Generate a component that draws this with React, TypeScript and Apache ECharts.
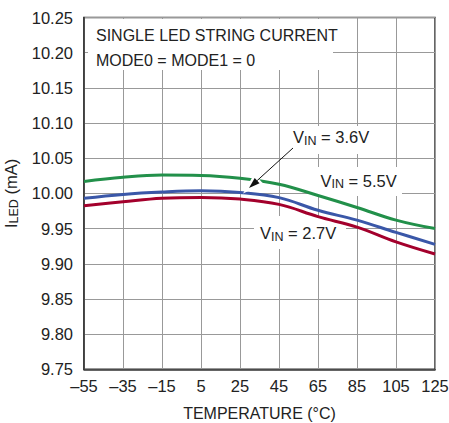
import React, { useEffect, useRef } from "react";
import * as echarts from "echarts";

const temps = [-55, -35, -15, 5, 25, 45, 65, 85, 105, 125];
const vin55 = [10.017, 10.023, 10.026, 10.0255, 10.0215, 10.013, 9.997, 9.98, 9.962, 9.95];
const vin36 = [9.993, 9.9986, 10.002, 10.0037, 10.0014, 9.994, 9.976, 9.962, 9.9446, 9.9276];
const vin27 = [9.9824, 9.988, 9.993, 9.9943, 9.992, 9.9844, 9.967, 9.952, 9.931, 9.9138];

const xMin = -55;
const xMax = 125;
const xStep = 20;
const yMin = 9.75;
const yMax = 10.25;
const yStep = 0.05;

const FONT = "'Liberation Sans', Arial, sans-serif";
const TXT = "#222";

const sub = (main: string, s: string, rest: string) => `{a|${main}}{b|${s}}{a|${rest}}`;
const richStyle = {
  a: { fontSize: 16.5, fontFamily: FONT, fill: TXT, color: TXT, lineHeight: 20 },
  b: { fontSize: 12.5, fontFamily: FONT, fill: TXT, color: TXT, lineHeight: 12, verticalAlign: "bottom" },
};

export default function App() {
  const ref = useRef<HTMLDivElement>(null);
  useEffect(() => {
    if (!ref.current) return;
    const chart = echarts.init(ref.current, undefined, { renderer: "svg" });
    const mk = (vals: number[]) => temps.map((t, i) => [t, vals[i]]);
    const series = [
      { name: "VIN = 5.5V", data: mk(vin55), color: "#22904a" },
      { name: "VIN = 3.6V", data: mk(vin36), color: "#3a57a8" },
      { name: "VIN = 2.7V", data: mk(vin27), color: "#a3002c" },
    ].map((s) => ({
      type: "line",
      name: s.name,
      data: s.data,
      smooth: 0.4,
      showSymbol: false,
      lineStyle: { color: s.color, width: 3 },
      itemStyle: { color: s.color },
      z: 3,
    }));

    // arrow geometry
    const tip = [249, 188];
    const start = [293, 148];
    const dx = start[0] - tip[0];
    const dy = start[1] - tip[1];
    const len = Math.hypot(dx, dy);
    const ux = dx / len;
    const uy = dy / len;
    const hl = 11;
    const hw = 3.6;
    const bx = tip[0] + ux * hl;
    const by = tip[1] + uy * hl;
    const head = [
      [tip[0], tip[1]],
      [bx + -uy * hw, by + ux * hw],
      [bx - -uy * hw, by - ux * hw],
    ];

    const label = (x: number, y: number, text: string) => ({
      type: "text",
      x,
      y,
      z: 20,
      style: {
        text,
        rich: richStyle,
        verticalAlign: "middle",
        align: "left",
      },
    });

    chart.setOption({
      animation: false,
      backgroundColor: "#fff",
      grid: {
        left: 84,
        right: 14,
        top: 17.5,
        bottom: 53.7,
        show: true,
        containLabel: false,
        outerBoundsMode: "none",
        borderColor: "#333",
        borderWidth: 1.5,
        backgroundColor: "transparent",
      },
      xAxis: {
        type: "value",
        min: xMin,
        max: xMax,
        interval: xStep,
        name: "TEMPERATURE (°C)",
        nameLocation: "middle",
        nameGap: 36,
        nameTextStyle: { fontSize: 16, fontFamily: FONT, color: TXT },
        axisLine: { show: true, onZero: false, lineStyle: { color: "#333", width: 1.5 } },
        axisTick: { show: false },
        axisLabel: {
          fontSize: 16.5,
          fontFamily: FONT,
          color: TXT,
          margin: 8,
          formatter: (v: number) => (v < 0 ? "\u2013" + Math.abs(v) : String(v)),
        },
        splitLine: { show: true, lineStyle: { color: "#999", width: 1 } },
      },
      yAxis: {
        type: "value",
        min: yMin,
        max: yMax,
        interval: yStep,
        name: "{a|I}{b|LED}{a| (mA)}",
        nameLocation: "middle",
        nameRotate: 90,
        nameGap: 60,
        nameTextStyle: {
          rich: {
            a: { fontSize: 16.5, fontFamily: FONT, color: TXT, lineHeight: 20 },
            b: { fontSize: 12.5, fontFamily: FONT, color: TXT, lineHeight: 12, verticalAlign: "bottom" },
          },
        },
        axisLine: { show: true, onZero: false, lineStyle: { color: "#333", width: 1.5 } },
        axisTick: { show: false },
        axisLabel: {
          fontSize: 16.5,
          fontFamily: FONT,
          color: TXT,
          margin: 11,
          formatter: (v: number) => v.toFixed(2),
        },
        splitLine: { show: true, lineStyle: { color: "#999", width: 1 } },
      },
      series,
      graphic: [
        { type: "rect", z: 1, shape: { x: 88, y: 19, width: 245, height: 51 }, style: { fill: "#fff" } },
        { type: "rect", z: 1, shape: { x: 286, y: 126, width: 104, height: 28 }, style: { fill: "#fff" } },
        { type: "rect", z: 1, shape: { x: 313, y: 167, width: 89, height: 29 }, style: { fill: "#fff" } },
        { type: "rect", z: 1, shape: { x: 254, y: 216, width: 92, height: 33 }, style: { fill: "#fff" } },
        {
          type: "text",
          x: 96,
          y: 35.5,
          z: 20,
          style: { text: "SINGLE LED STRING CURRENT", fontSize: 16, fontFamily: FONT, fill: TXT, verticalAlign: "middle" },
        },
        {
          type: "text",
          x: 96,
          y: 60,
          z: 20,
          style: { text: "MODE0 = MODE1 = 0", fontSize: 16, fontFamily: FONT, fill: TXT, verticalAlign: "middle" },
        },
        label(293, 137, sub("V", "IN", " = 3.6V")),
        label(320.5, 180.5, sub("V", "IN", " = 5.5V")),
        label(260, 233, sub("V", "IN", " = 2.7V")),
        {
          type: "polygon",
          z: 15,
          shape: { points: head },
          style: { fill: "#fff", stroke: "#fff", lineWidth: 5 },
        },
        {
          type: "line",
          z: 16,
          shape: { x1: start[0], y1: start[1], x2: bx, y2: by },
          style: { stroke: "#111", lineWidth: 1 },
        },
        {
          type: "polygon",
          z: 16,
          shape: { points: head },
          style: { fill: "#111" },
        },
      ],
    });
    return () => chart.dispose();
  }, []);
  return (
    <div
      ref={ref}
      style={{ position: "absolute", left: 0, top: 0, width: 449, height: 423 }}
    />
  );
}
